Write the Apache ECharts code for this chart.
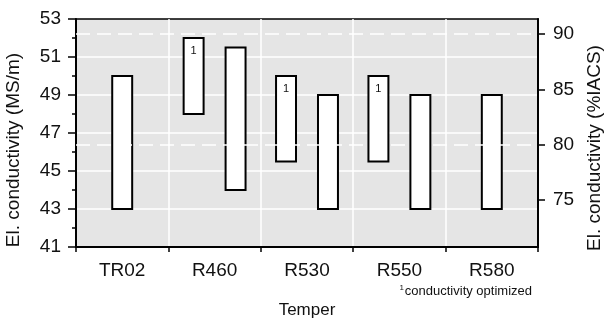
<!DOCTYPE html>
<html>
<head>
<meta charset="utf-8">
<script src="https://cdn.jsdelivr.net/npm/echarts@6/dist/echarts.min.js"></script>
<style>
  html, body { margin: 0; padding: 0; background: #fff; }
  #chart { width: 607px; height: 325px; }
</style>
</head>
<body>
<div id="chart"></div>
<script>
// tempers on the x axis
var categories = ['TR02', 'R460', 'R530', 'R550', 'R580'];
// standard range (MS/m)
var stdLow = [43, 44, 43, 43, 43];
var stdHigh = [50, 51.5, 49, 49, 49];
// conductivity optimized range (MS/m), null = none
var optLow = [null, 48, 45.5, 45.5, null];
var optHigh = [null, 52, 50, 50, null];
// left axis ticks
var leftMin = 41, leftMax = 53, leftStep = 2;
// right axis (%IACS = MS/m / 0.58)
var iacsTicks = [75, 80, 85, 90];
var iacsDashed = [80, 90];

var font = 'Liberation Sans, Arial, sans-serif';

function toItems(lows, highs) {
  var out = [];
  for (var i = 0; i < lows.length; i++) {
    if (lows[i] != null) out.push([i, lows[i], highs[i]]);
  }
  return out;
}

// floating box drawn from the axis scales
function boxRenderer(others, side, mark) {
  return function (params, api) {
    var i = api.value(0);
    var band = api.size([1, 0])[0];
    var shift = others[i] != null ? side * band * 0.227 : 0;
    var top = api.coord([i, api.value(2)]);
    var bottom = api.coord([i, api.value(1)]);
    var w = band * 0.216;
    var cx = top[0] + shift;
    var children = [{
      type: 'rect',
      shape: { x: cx - w / 2, y: top[1], width: w, height: bottom[1] - top[1] },
      style: { fill: '#fff', stroke: '#000', lineWidth: 2 }
    }];
    if (mark) {
      children.push({
        type: 'text',
        style: {
          text: mark, x: cx, y: top[1] + 13,
          fill: '#111', fontSize: 11, fontFamily: font,
          align: 'center', verticalAlign: 'middle'
        }
      });
    }
    return { type: 'group', children: children };
  };
}

var chart = echarts.init(document.getElementById('chart'));

var option = {
  animation: false,
  grid: {
    left: 76, right: 69, top: 19, bottom: 78,
    show: true,
    backgroundColor: '#e5e5e5',
    borderColor: '#000',
    borderWidth: 1.5
  },
  xAxis: {
    type: 'category',
    data: categories,
    name: 'Temper',
    nameLocation: 'middle',
    nameGap: 55,
    nameTextStyle: { fontSize: 17, fontFamily: font, color: '#111' },
    axisLine: { lineStyle: { color: '#000', width: 2 } },
    axisTick: { show: true, length: 5, lineStyle: { color: '#000', width: 1.5 } },
    axisLabel: { fontSize: 19, fontFamily: font, color: '#111', margin: 14 },
    splitLine: {
      show: true, showMinLine: false, showMaxLine: false,
      lineStyle: { color: '#fff', width: 1.5 }
    }
  },
  yAxis: [{
    type: 'value',
    min: leftMin, max: leftMax, interval: leftStep,
    axisLine: { show: true, lineStyle: { color: '#000', width: 2 } },
    axisTick: { show: true, length: 8, lineStyle: { color: '#000', width: 1.5 } },
    minorTick: { show: true, splitNumber: 2, length: 4, lineStyle: { color: '#000', width: 1.5 } },
    axisLabel: { fontSize: 19, fontFamily: font, color: '#111', margin: 15 },
    splitLine: {
      show: true, showMinLine: false, showMaxLine: false,
      lineStyle: { color: '#fff', width: 1.5 }
    }
  }, {
    type: 'value',
    position: 'right',
    min: leftMin / 0.58, max: leftMax / 0.58,
    axisLine: { show: true, lineStyle: { color: '#000', width: 2 } },
    axisTick: { show: true, length: 7, customValues: iacsTicks, lineStyle: { color: '#000', width: 1.5 } },
    axisLabel: { fontSize: 19, fontFamily: font, color: '#111', margin: 15, customValues: iacsTicks },
    splitLine: { show: false }
  }],
  graphic: [{
    type: 'text',
    x: 14, y: 150, rotation: Math.PI / 2,
    style: {
      text: 'El. conductivity (MS/m)', fontSize: 19, fontFamily: font, fill: '#111',
      align: 'center', verticalAlign: 'middle'
    }
  }, {
    type: 'text',
    x: 595, y: 148, rotation: Math.PI / 2,
    style: {
      text: 'El. conductivity (%IACS)', fontSize: 19, fontFamily: font, fill: '#111',
      align: 'center', verticalAlign: 'middle'
    }
  }, {
    type: 'text',
    right: 75, top: 284,
    style: {
      text: '{s|1}conductivity optimized',
      fontSize: 13, fontFamily: font, fill: '#111',
      rich: { s: { fontSize: 8, fontFamily: font, fill: '#111', verticalAlign: 'top', padding: [0, 1, 6, 0] } }
    }
  }],
  series: [{
    type: 'line',
    yAxisIndex: 1,
    data: [],
    silent: true,
    markLine: {
      silent: true,
      symbol: 'none',
      label: { show: false },
      lineStyle: { color: '#fff', width: 1.5, type: [14, 7] },
      data: iacsDashed.map(function (v) { return { yAxis: v }; })
    }
  }, {
    type: 'custom',
    renderItem: boxRenderer(optLow, 1, null),
    encode: { x: 0, y: [1, 2] },
    data: toItems(stdLow, stdHigh),
    z: 3
  }, {
    type: 'custom',
    renderItem: boxRenderer(stdLow, -1, '1'),
    encode: { x: 0, y: [1, 2] },
    data: toItems(optLow, optHigh),
    z: 3
  }]
};

chart.setOption(option);
</script>
</body>
</html>
